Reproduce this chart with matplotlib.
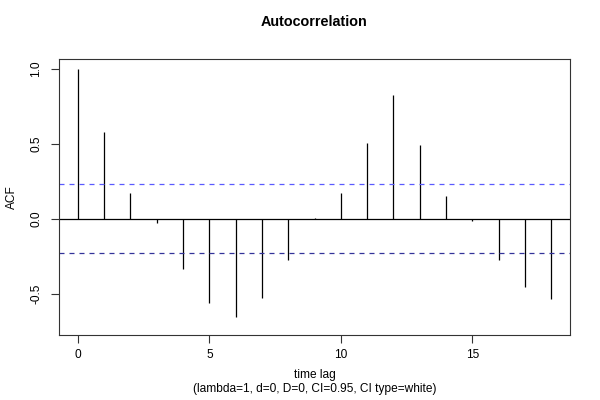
import numpy as np
import matplotlib.pyplot as plt

plt.rcParams['font.family'] = ['Liberation Sans', 'DejaVu Sans']

# ACF values
lags = list(range(19))
acf = [1.0, 0.58, 0.17, -0.027, -0.339, -0.562, -0.658, -0.528, -0.274, 0.005,
       0.169, 0.506, 0.825, 0.490, 0.149, -0.016, -0.274, -0.457, -0.538]
ci = 0.23

fig = plt.figure(figsize=(6, 4), dpi=100)
ax = fig.add_axes([59 / 600, 65 / 400, 511 / 600, 276 / 400])

ax.vlines(lags, 0, acf, color='black', lw=0.9)
ax.axhline(0, color='black', lw=0.9)
ax.axhline(ci, color='#5a5aff', lw=0.9, ls=(0, (4, 4)))
ax.axhline(-ci, color='#33339a', lw=0.9, ls=(0, (4, 4)))

ax.set_xlim(-0.72, 18.72)
ax.set_ylim(-0.777, 1.066)
ax.set_xticks([0, 5, 10, 15])
ax.set_yticks([-0.5, 0.0, 0.5, 1.0])
ax.set_yticklabels(['-0.5', '0.0', '0.5', '1.0'], rotation=90, va='center')
ax.tick_params(direction='out', length=6, width=0.8, labelsize=8.6, color='#333333')
ax.tick_params(axis='x', pad=4)
ax.tick_params(axis='y', pad=6)

for s in ax.spines.values():
    s.set_linewidth(0.8)
    s.set_color('#333333')

cx = (59 + 570) / 2 / 600
fig.text(cx, 1 - 22 / 400, 'Autocorrelation', fontsize=10.4, fontweight='bold',
         ha='center', va='center')
fig.text(12 / 600, 1 - 197 / 400, 'ACF', fontsize=8.6, rotation=90,
         ha='center', va='center')
fig.text(cx, 1 - 375 / 400, 'time lag', fontsize=8.6, ha='center', va='center')
fig.text(cx, 1 - 389 / 400, '(lambda=1, d=0, D=0, CI=0.95, CI type=white)',
         fontsize=8.6, ha='center', va='center')

fig.savefig('out.png', dpi=100)
